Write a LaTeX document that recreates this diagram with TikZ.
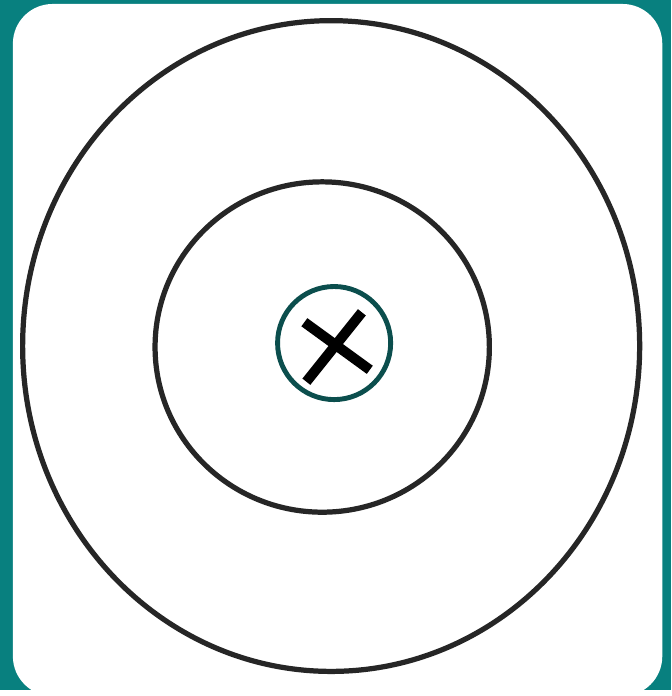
\documentclass[tikz,border=0pt]{standalone}
\usepackage{tikz}
\usetikzlibrary{shapes.geometric}
\definecolor{frameteal}{HTML}{08807F}
\definecolor{markteal}{HTML}{0B4E4D}
\tikzset{
  ring/.style   = {draw=black!85, line width=1.5pt},
  marker/.style = {circle, draw=markteal, line width=1.4pt, fill=white,
                   minimum size=1.14cm, inner sep=0pt},
  cross/.style  = {line width=2.9pt, draw=black}
}
\begin{document}
\begin{tikzpicture}[x=0.01cm, y=-0.01cm]
% frame and white card
\fill[frameteal] (0,0) rectangle (677,696);
\fill[white, rounded corners=0.4cm] (13,4) rectangle (668,702);
\useasboundingbox (0,0) rectangle (677,696);

% the two rings
\node[ring, ellipse, minimum width=6.22cm, minimum height=6.56cm, inner sep=0pt] (outer) at (334,349) {};
\node[ring, ellipse, minimum width=3.37cm, minimum height=3.33cm, inner sep=0pt] (inner) at (325,350) {};

% centre marker
\node[marker] (centre) at (337,346) {};
\draw[cross] (307,325) -- (373,373);
\draw[cross] (365,315) -- (309,385);
\end{tikzpicture}
\end{document}
